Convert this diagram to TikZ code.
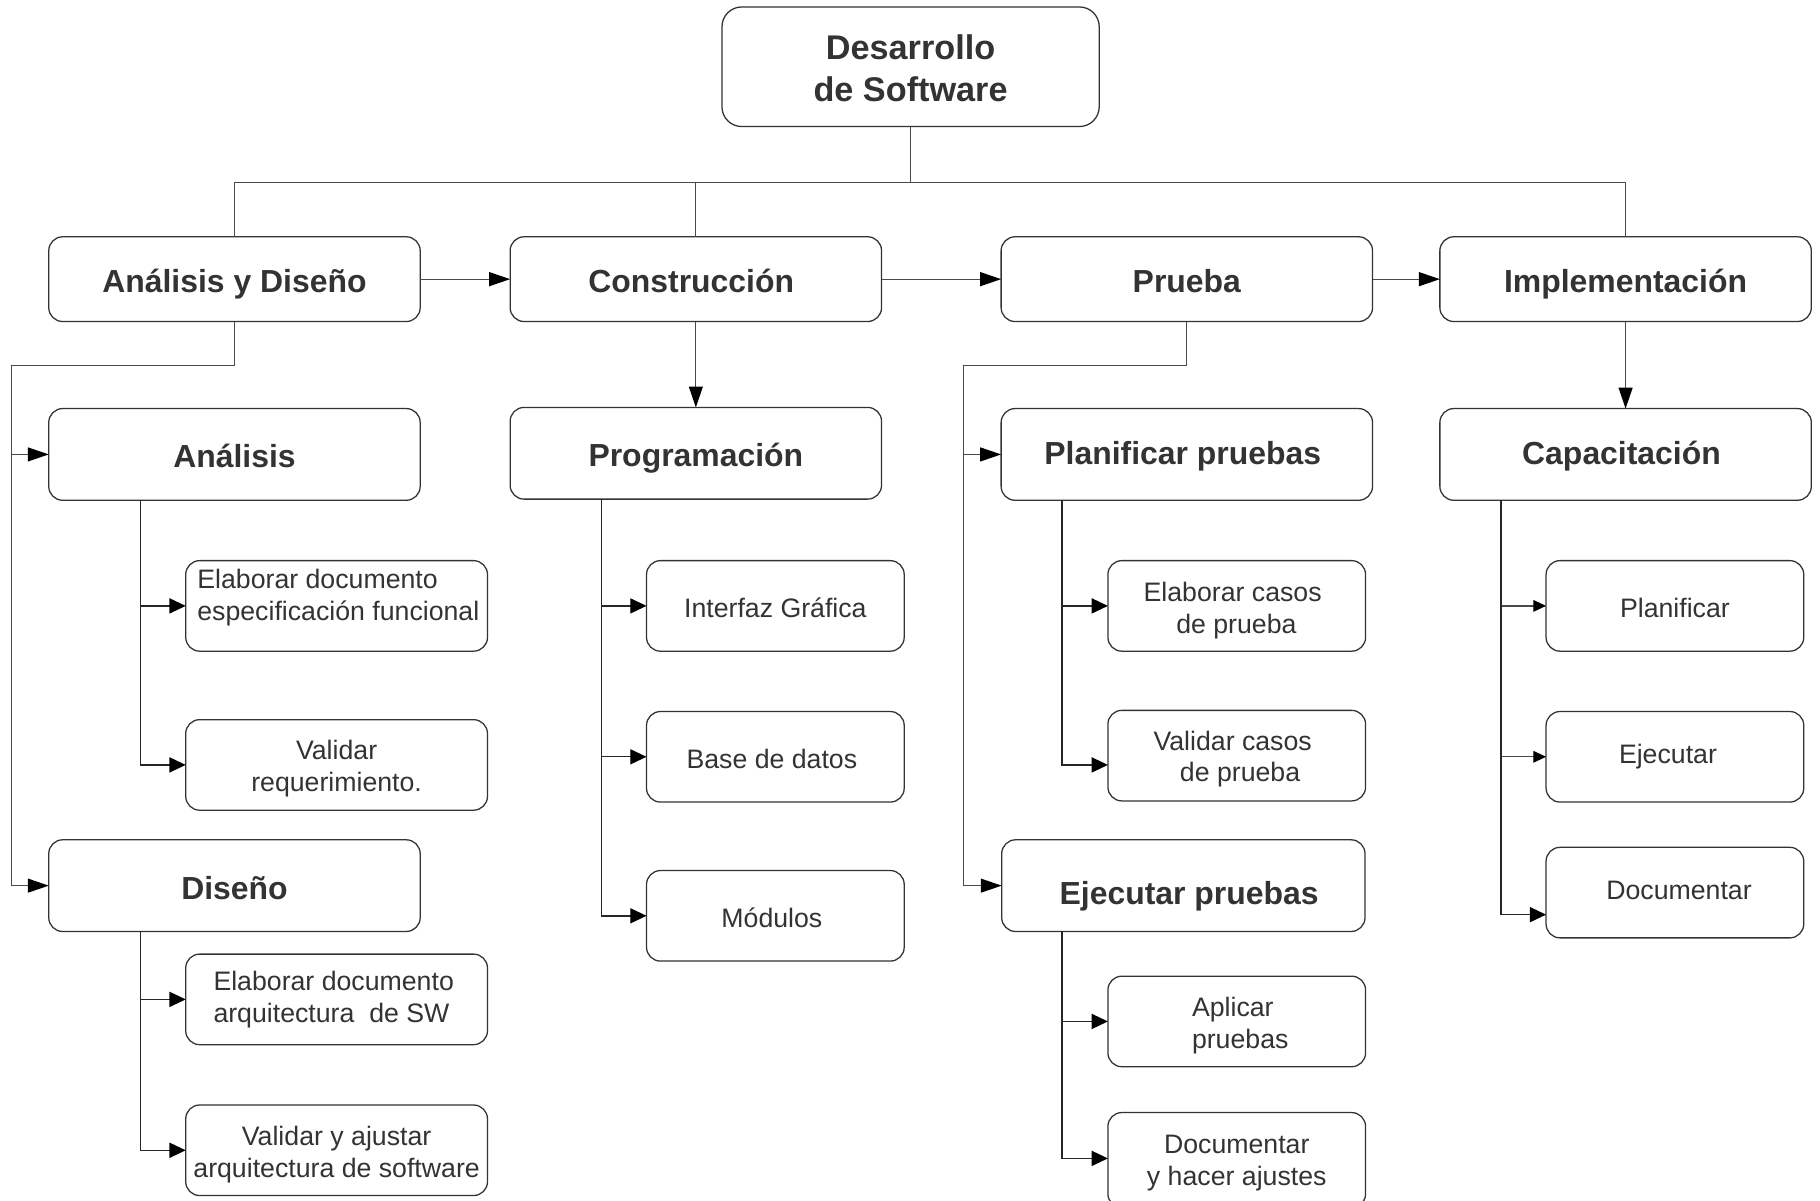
\documentclass[tikz,border=0pt]{standalone}
\usepackage{fontspec}
\setmainfont{Liberation Sans}
\usetikzlibrary{arrows.meta,calc}
\definecolor{txt}{HTML}{333333}
\definecolor{ln}{HTML}{4A4A4A}
\definecolor{bd}{HTML}{333333}
\begin{document}
\begin{tikzpicture}[x=1pt,y=-1pt,
  box/.style={draw=bd, line width=1.1pt, rounded corners=12pt, inner sep=0pt, outer sep=0pt},
  topbox/.style={box, rounded corners=17pt, minimum width=325pt, minimum height=103pt},
  lvone/.style={box, minimum width=320pt, minimum height=73pt},
  lvtwo/.style={box, minimum width=320pt, minimum height=79pt},
  leafw/.style={box, minimum width=260pt, minimum height=78pt},
  leaf/.style={box, minimum width=222pt, minimum height=78pt},
  ttop/.style={text=txt, inner sep=0pt, align=center, font=\fontsize{29.5}{36}\selectfont\bfseries},
  tbig/.style={text=txt, inner sep=0pt, font=\fontsize{27.5}{33}\selectfont\bfseries, text depth=0pt},
  tone/.style={text=txt, inner sep=0pt, font=\fontsize{23}{27.5}\selectfont, text depth=0pt},
  ttwo/.style={text=txt, inner sep=0pt, align=center, font=\fontsize{23}{27.5}\selectfont},
  conn/.style={draw=ln, line width=1.1pt},
  arr/.style={conn, -{Triangle[length=18pt,width=12pt,color=black]}},
  arrs/.style={conn, draw=black!85, line width=1.2pt, -{Triangle[length=14pt,width=13pt,color=black]}},
  arrt/.style={conn, -{Triangle[length=11pt,width=10pt,color=black]}}]
\useasboundingbox (0,0) rectangle (1568,1034);
% top
\node[topbox, label={[ttop, yshift=-1.5pt]center:{Desarrollo\\de Software}}] (T) at (784.5,57.5) {};
% level 1
\node[lvone, label={[tbig, text height=23.5pt]center:Análisis y Diseño}] (AD) at (202,240.5) {};
\node[lvone, label={[tbig, text height=23.5pt, xshift=-4pt]center:Construcción}] (CON) at (599.5,240.5) {};
\node[lvone, label={[tbig, text height=23.5pt]center:Prueba}] (PR) at (1022.5,240.5) {};
\node[lvone, label={[tbig, text height=23.5pt]center:Implementación}] (IMP) at (1400.5,240.5) {};
% level 2
\node[lvtwo, label={[tbig, text height=23pt]center:Análisis}] (AN) at (202,391.5) {};
\node[lvtwo, label={[tbig, text height=24pt]center:Diseño}] (DI) at (202,763) {};
\node[lvtwo, label={[tbig, text height=23pt]center:Programación}] (PG) at (599.5,390.5) {};
\node[lvtwo, label={[tbig, text height=17pt, xshift=-3.5pt]center:Planificar pruebas}] (PP) at (1022.5,391.5) {};
\node[lvtwo, minimum width=313pt, label={[tbig, text height=32pt, xshift=5pt]center:Ejecutar pruebas}] (EP) at (1019.5,763) {};
\node[lvtwo, label={[tbig, text height=17pt, xshift=-3.5pt]center:Capacitación}] (CAP) at (1400.5,391.5) {};
% level 3
\node[leafw, label={[ttwo, align=left, xshift=1.5pt, yshift=7pt]center:{Elaborar documento\\especificación funcional}}] (E1) at (290,522) {};
\node[leafw, label={[ttwo, yshift=-3pt]center:{Validar\\requerimiento.}}] (V1) at (290,659) {};
\node[leafw, label={[ttwo, align=left, xshift=-2.5pt]center:{Elaborar documento\\arquitectura\ \ de SW}}] (E2) at (290,861) {};
\node[leafw, label={[ttwo, yshift=-3.5pt]center:{Validar y ajustar\\arquitectura de software}}] (V2) at (290,991) {};
\node[leaf, label={[tone, text height=19.5pt]center:Interfaz Gráfica}] (IG) at (668,522) {};
\node[leaf, label={[tone, text height=19.5pt, xshift=-3pt]center:Base de datos}] (BD) at (668,652) {};
\node[leaf, label={[tone, text height=19.5pt, xshift=-3pt]center:Módulos}] (MO) at (668,789) {};
\node[leaf, label={[ttwo, xshift=-3.5pt, yshift=-4pt]center:{Elaborar casos\\\ de prueba}}] (EC) at (1065.5,522) {};
\node[leaf, label={[ttwo, xshift=-3.5pt, yshift=-3pt]center:{Validar casos\\\ \ de prueba}}] (VC) at (1065.5,651) {};
\node[leaf, label={[ttwo, align=left, xshift=3pt, yshift=-3.5pt]center:{Aplicar\\pruebas}}] (AP) at (1065.5,880) {};
\node[leaf, minimum height=82pt, label={[ttwo, yshift=-2.5pt]center:{Documentar\\y hacer ajustes}}] (DA) at (1065.5,999.5) {};
\node[leaf, label={[tone, text height=19.5pt]center:Planificar}] (PL) at (1443,522) {};
\node[leaf, label={[tone, text height=11pt, xshift=-6pt]center:Ejecutar}] (EJ) at (1443,652) {};
\node[leaf, label={[tone, text height=12pt, xshift=3.5pt]center:Documentar}] (DO) at (1443,769) {};
% bus
\coordinate (bus) at (784.5,157);
\draw[conn] (T.south) -- (bus);
\draw[conn] (AD.north) |- (bus);
\draw[conn] (CON.north) -- (CON.north |- bus);
\draw[conn] (IMP.north) |- (bus);
% level-1 chain
\draw[arr] (AD.east) -- (CON.west);
\draw[arr] (CON.east) -- (PR.west);
\draw[arr] (PR.east) -- (IMP.west);
% level 1 -> level 2
\coordinate (ladA) at (10,315);
\draw[arr] (AD.south) |- (ladA) |- (AN.west);
\draw[arr] (AD.south) |- (ladA) |- (DI.west);
\draw[arr] (CON.south) -- (PG.north);
\coordinate (ladP) at (830,315);
\draw[arr] (PR.south) |- (ladP) |- (PP.west);
\draw[arr] (PR.south) |- (ladP) |- (EP.west);
\draw[arr] (IMP.south) -- (CAP.north);
% level 2 -> level 3
\coordinate (anv) at (121,431);
\draw[arrs] (anv) |- (E1.west);
\draw[arrs] (anv) |- (V1.west);
\coordinate (div) at (121,802);
\draw[arrs] (div) |- (E2.west);
\draw[arrs] (div) |- (V2.west);
\coordinate (pgv) at (518,430);
\draw[arrs] (pgv) |- (IG.west);
\draw[arrs] (pgv) |- (BD.west);
\draw[arrs] (pgv) |- (MO.west);
\coordinate (ppv) at (915,431);
\draw[arrs] (ppv) |- (EC.west);
\draw[arrs] (ppv) |- ($(VC.west)+(0,8)$);
\coordinate (epv) at (915,802);
\draw[arrs] (epv) |- (AP.west);
\draw[arrs] (epv) |- ($(DA.west)+(0,-1.5)$);
\coordinate (cpv) at (1293,431);
\draw[arrt] (cpv) |- (PL.west);
\draw[arrt] (cpv) |- (EJ.west);
\draw[arrs] (cpv) |- ($(DO.west)+(0,19)$);
\end{tikzpicture}
\end{document}
